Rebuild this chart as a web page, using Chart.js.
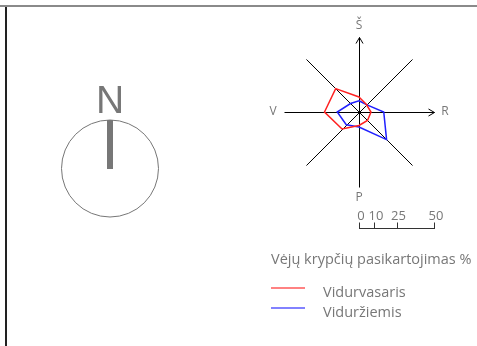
<!DOCTYPE html>
<html>
<head>
<meta charset="utf-8">
<script src="https://cdn.jsdelivr.net/npm/chart.js@4/dist/chart.umd.min.js"></script>
<style>
  html, body { margin: 0; padding: 0; background: #fff; }
  canvas { display: block; }
</style>
</head>
<body>
<canvas id="windRose" width="477" height="346"></canvas>
<script>
// wind directions, clockwise from north
const directions = ["Š", "ŠR", "R", "PR", "P", "PV", "V", "ŠV"];
const shownDirections = [0, 2, 4, 6]; // only the main ones get a letter
const summerValues = [10, 7, 8, 8, 9, 16, 23, 22];
const winterValues = [7.5, 7, 16.5, 26, 10, 12, 14.5, 8];
const seriesNames = ["Vidurvasaris", "Viduržiemis"];
const seriesColors = ["#ff2020", "#2020ff"];
const scaleBarTicks = [0, 10, 25, 50];
const legendTitle = "Vėjų krypčių pasikartojimas %";
const northLabel = "N";

const textGray = "#777";
const fontFamily = "'Open Sans', 'Liberation Sans', sans-serif";

// frame, north sign, axes, scale bar, letters and legend
const decorPlugin = {
  id: "decor",
  beforeDraw(chart) {
    const ctx = chart.ctx;
    ctx.save();
    ctx.fillStyle = "#fff";
    ctx.fillRect(0, 0, chart.width, chart.height);
    // frame
    ctx.fillStyle = "#8a8a8a";
    ctx.fillRect(0, 5, chart.width, 2);
    ctx.fillStyle = "#222";
    ctx.fillRect(5, 7, 2, chart.height - 7);

    // north sign
    ctx.strokeStyle = textGray;
    ctx.lineWidth = 1;
    ctx.beginPath();
    ctx.arc(110, 168.5, 48.5, 0, Math.PI * 2);
    ctx.stroke();
    ctx.fillStyle = textGray;
    ctx.fillRect(107, 120, 6, 49);
    ctx.font = "39px 'Liberation Sans', sans-serif";
    ctx.textAlign = "center";
    ctx.textBaseline = "alphabetic";
    ctx.fillText(northLabel, 110, 113);
    ctx.restore();
  },
  beforeDatasetsDraw(chart) {
    // the 8 direction axes, shifted half a pixel so they stay sharp
    const ctx = chart.ctx;
    const r = chart.scales.r;
    const outer = r.getDistanceFromCenterForValue(r.max);
    ctx.save();
    ctx.translate(0.5, 0.5);
    ctx.strokeStyle = "#000";
    ctx.lineWidth = 1;
    ctx.beginPath();
    directions.forEach((d, i) => {
      const p = r.getPointPosition(i, outer);
      ctx.moveTo(r.xCenter, r.yCenter);
      ctx.lineTo(p.x, p.y);
    });
    // arrow heads on north and east axes
    const north = r.getPointPosition(0, outer);
    const east = r.getPointPosition(2, outer);
    ctx.moveTo(north.x - 3.5, north.y + 6);
    ctx.lineTo(north.x, north.y);
    ctx.lineTo(north.x + 3.5, north.y + 6);
    ctx.moveTo(east.x - 6, east.y - 3.5);
    ctx.lineTo(east.x, east.y);
    ctx.lineTo(east.x - 6, east.y + 3.5);
    ctx.stroke();
    ctx.restore();
  },
  afterDraw(chart) {
    const ctx = chart.ctx;
    const r = chart.scales.r;
    const outer = r.getDistanceFromCenterForValue(r.max);
    ctx.save();

    // direction letters
    ctx.fillStyle = textGray;
    ctx.font = "12px " + fontFamily;
    ctx.textAlign = "center";
    ctx.textBaseline = "middle";
    shownDirections.forEach((i) => {
      const p = r.getPointPosition(i, outer + 11);
      ctx.fillText(directions[i], p.x, p.y);
    });

    // scale bar under the rose
    const barY = 228.5;
    ctx.strokeStyle = "#333";
    ctx.beginPath();
    ctx.moveTo(r.xCenter, barY);
    ctx.lineTo(r.xCenter + r.getDistanceFromCenterForValue(r.max) + 1, barY);
    scaleBarTicks.forEach((v) => {
      const x = Math.round(r.xCenter + r.getDistanceFromCenterForValue(v)) + 0.5;
      ctx.moveTo(x, barY);
      ctx.lineTo(x, barY - 6);
    });
    ctx.stroke();
    ctx.font = "13px " + fontFamily;
    ctx.textBaseline = "middle";
    scaleBarTicks.forEach((v) => {
      const x = r.xCenter + r.getDistanceFromCenterForValue(v);
      ctx.fillText(String(v), x + 2, 216.5);
    });

    // legend
    ctx.textAlign = "left";
    ctx.font = "14.5px " + fontFamily;
    ctx.fillText(legendTitle, 271, 260);
    chart.data.datasets.forEach((ds, i) => {
      const y = 288 + i * 20;
      ctx.strokeStyle = ds.borderColor;
      ctx.globalAlpha = 0.75;
      ctx.lineWidth = 1.5;
      ctx.beginPath();
      ctx.moveTo(271, y);
      ctx.lineTo(305, y);
      ctx.stroke();
      ctx.globalAlpha = 1;
      ctx.fillText(ds.label, 323, y + 5);
    });
    ctx.restore();
  },
};

new Chart(document.getElementById("windRose"), {
  type: "radar",
  data: {
    labels: directions,
    datasets: [
      {
        label: seriesNames[0],
        data: summerValues,
        borderColor: seriesColors[0],
      },
      {
        label: seriesNames[1],
        data: winterValues,
        borderColor: seriesColors[1],
      },
    ],
  },
  options: {
    responsive: false,
    animation: false,
    devicePixelRatio: 1,
    layout: {
      padding: { left: 284.5, right: 42.5, top: 37.5, bottom: 158.5 },
    },
    elements: {
      line: { borderWidth: 1.5, tension: 0, fill: false },
      point: { radius: 0, hoverRadius: 0 },
    },
    plugins: {
      legend: { display: false },
      tooltip: { enabled: false },
    },
    scales: {
      r: {
        min: 0,
        max: 50,
        startAngle: 0,
        grid: { display: false },
        angleLines: { display: false },
        pointLabels: { display: false },
        ticks: { display: false },
      },
    },
  },
  plugins: [decorPlugin],
});
</script>
</body>
</html>
